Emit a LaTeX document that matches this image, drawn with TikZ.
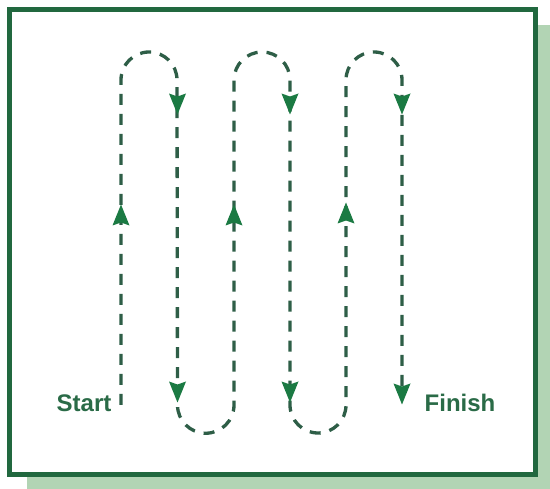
\documentclass[tikz,border=0pt]{standalone}
\usepackage{fontspec}
\setmainfont{Liberation Sans}
\definecolor{framegreen}{HTML}{21683F}
\definecolor{shadowgreen}{HTML}{B2D4B4}
\definecolor{dashgreen}{HTML}{2E5E47}
\definecolor{headgreen}{HTML}{1B7A43}
\definecolor{textgreen}{HTML}{2A6B47}
\tikzset{
  trail/.style={draw=dashgreen, line width=3.3pt, dash pattern=on 11pt off 9pt},
  label/.style={text=textgreen, font=\bfseries\fontsize{24}{28}\selectfont, inner sep=0pt},
  downhead/.pic={\fill[headgreen] (-8.5,10.5) -- (0,7.5) -- (8.5,10.5) -- (0,-10.5) -- cycle;},
  uphead/.pic={\fill[headgreen] (-8.5,-10.5) -- (0,-7.5) -- (8.5,-10.5) -- (0,10.5) -- cycle;}
}
\begin{document}
\begin{tikzpicture}[x=1pt,y=1pt]
\useasboundingbox (0,0) rectangle (550,-489);
\fill[white] (0,0) rectangle (550,-489);
% shadow and frame
\fill[shadowgreen] (27,-25) rectangle (550,-489);
\fill[white] (9.5,-9.5) rectangle (535.5,-474.5);
\draw[framegreen, line width=5pt] (9.5,-9.5) rectangle (535.5,-474.5);
% path coordinates
\coordinate (s) at (121,-405);
\coordinate (a1) at (121,-80);
\coordinate (b1) at (177.5,-405);
\coordinate (a2) at (234,-80);
\coordinate (b2) at (290,-405);
\coordinate (a3) at (346,-80);
\coordinate (f) at (402,-396);
\draw[trail] (s) -- (a1) arc[start angle=180, end angle=0, radius=28pt]
  -- (b1) arc[start angle=180, end angle=360, radius=28.25pt]
  -- (a2) arc[start angle=180, end angle=0, radius=28pt]
  -- (b2) arc[start angle=180, end angle=360, radius=28pt]
  -- (a3) arc[start angle=180, end angle=0, radius=28pt]
  -- (f);
% arrowheads
\pic at (121,-215) {uphead};
\pic at (234,-215) {uphead};
\pic at (346,-213) {uphead};
\pic at (177.5,-104) {downhead};
\pic at (290,-104) {downhead};
\pic at (402,-104) {downhead};
\pic at (177.5,-392) {downhead};
\pic at (290,-392) {downhead};
\pic at (402,-394) {downhead};
% labels
\node[label] (start) at (84,-403) {Start};
\node[label] (finish) at (460,-403) {Finish};
\end{tikzpicture}
\end{document}
